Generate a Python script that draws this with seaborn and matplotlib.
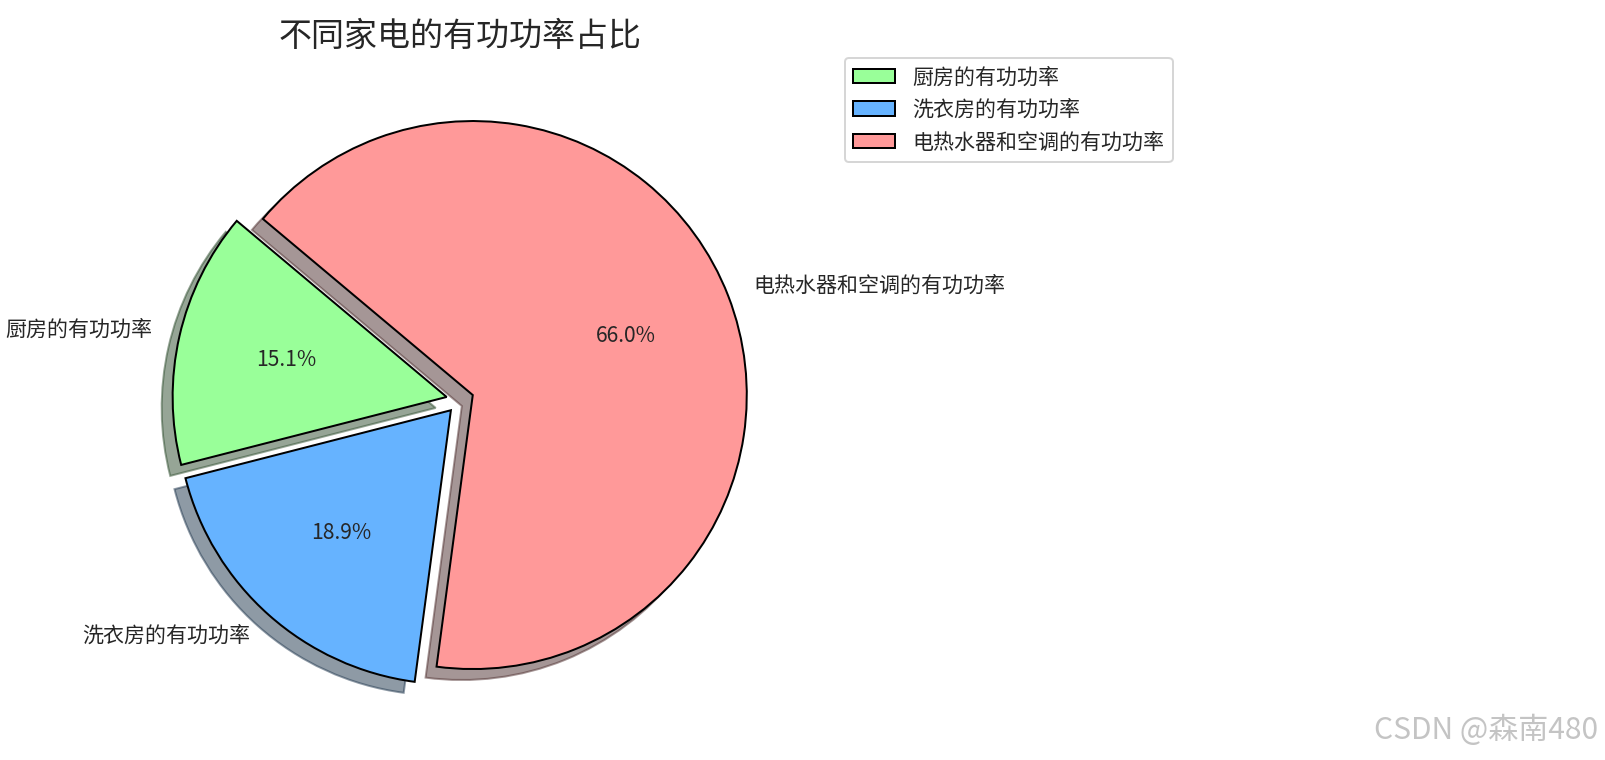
import matplotlib
matplotlib.use("Agg")
import matplotlib.pyplot as plt
import seaborn as sns

labels = ['厨房的有功功率', '洗衣房的有功功率', '电热水器和空调的有功功率']
values = [15.1, 18.9, 66.0]
colors = ['#99ff99', '#66b3ff', '#ff9999']
explode = (0.05, 0.05, 0.05)

sns.set_style('white')
plt.rcParams['font.family'] = ['Noto Sans CJK SC', 'DejaVu Sans']
plt.rcParams['axes.unicode_minus'] = False

W, H, DPI = 1605, 760, 144
fig = plt.figure(figsize=(W / DPI, H / DPI), dpi=DPI)

# pie centre ~ (460, 400) px, radius ~ 274 px -> axes box of 2.5 radii
size = 685
cx, cy = 460, 400
ax = fig.add_axes([(cx - size / 2) / W, (H - cy - size / 2) / H, size / W, size / H])

ax.pie(values, labels=labels, colors=colors, explode=explode,
       autopct='%1.1f%%', shadow=True, startangle=140,
       wedgeprops={'edgecolor': 'black', 'linewidth': 1},
       textprops={'fontsize': 10.5})
ax.set_aspect('equal')
ax.set_title('不同家电的有功功率占比', fontsize=16.5)

ax.legend(loc='upper left', bbox_to_anchor=(845 / W, 1 - 58 / H),
          bbox_transform=fig.transFigure, borderaxespad=0, fontsize=10.5)

fig.text(1598 / W, 1 - 730 / H, 'CSDN @森南480', ha='right', va='center',
         fontsize=15, color='#c4c4c4')

fig.savefig('out.png', dpi=DPI)
